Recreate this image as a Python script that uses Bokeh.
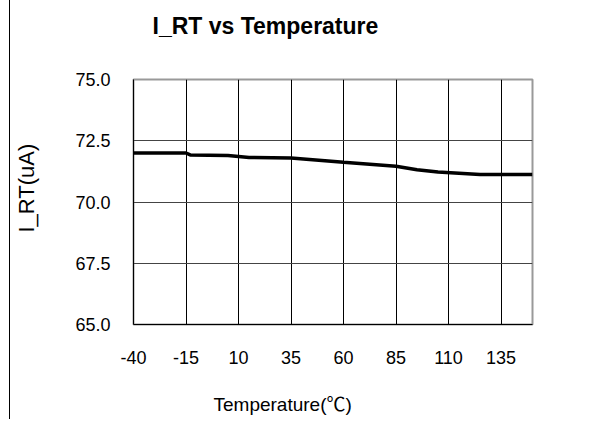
from bokeh.plotting import figure
from bokeh.models import FixedTicker, PrintfTickFormatter, Title
from bokeh.embed import file_html
from bokeh.resources import INLINE

# Data
temperature = [-40, -15, -13, 5, 15, 35, 60, 85, 95, 105, 125, 150]
i_rt = [72.0, 72.0, 71.92, 71.90, 71.82, 71.80, 71.62, 71.46, 71.32, 71.22, 71.12, 71.12]
x_ticks = [-40, -15, 10, 35, 60, 85, 110, 135]
y_ticks = [65.0, 67.5, 70.0, 72.5, 75.0]
title_text = "I_RT vs Temperature"
x_label = "Temperature(℃)"
y_label = "I_RT(uA)"

FONT = "Liberation Sans"

p = figure(width=577, height=419, x_range=(-40, 150), y_range=(65, 75),
           output_backend="svg", toolbar_location=None,
           min_border_left=123, min_border_right=55,
           min_border_top=79, min_border_bottom=95)
try:
    p.title = None
except Exception:
    p.title.text = ""
    p.title.standoff = 0
p.styles = {"border-left": "1px solid black", "margin-left": "9px"}
p.background_fill_color = "white"
p.border_fill_color = "white"
p.outline_line_color = "#999999"
p.outline_line_width = 2

for ax in (p.xaxis[0], p.yaxis[0]):
    ax.axis_line_color = "black"
    ax.axis_line_width = 1
    ax.major_tick_in = 0
    ax.major_tick_out = 0
    ax.minor_tick_line_color = None
    ax.major_label_text_font = FONT
    ax.major_label_text_font_size = "18px"
    ax.major_label_text_color = "black"

p.xaxis.ticker = FixedTicker(ticks=x_ticks)
p.yaxis.ticker = FixedTicker(ticks=y_ticks)
p.xaxis.formatter = PrintfTickFormatter(format="%d")
p.yaxis.formatter = PrintfTickFormatter(format="%.1f")
p.xaxis.major_label_standoff = 26
p.yaxis.major_label_standoff = 23


def spacer(n):
    return Title(text=" ", text_font_size="1px", standoff=n)


# title (above), with a spacer between it and the frame
p.add_layout(spacer(36), "above")
p.add_layout(Title(text=title_text, text_font=FONT, text_font_size="23px",
                   text_font_style="bold", text_color="black",
                   align="left", vertical_align="top", offset=19, standoff=0), "above")

# x axis label (below), left-aligned like the reference
p.add_layout(spacer(24), "below")
p.add_layout(Title(text=x_label, text_font="'Liberation Sans', 'Noto Sans CJK SC'",
                   text_font_size="19px", text_font_style="normal", text_color="black",
                   align="left", vertical_align="top", offset=80, standoff=0), "below")

# y axis label (left)
p.add_layout(spacer(29), "left")
p.add_layout(Title(text=y_label, text_font=FONT,
                   text_font_size="22px", text_font_style="normal", text_color="black",
                   align="left", vertical_align="top", offset=92, standoff=0), "left")

p.xgrid.ticker = FixedTicker(ticks=x_ticks)
p.ygrid.ticker = FixedTicker(ticks=y_ticks)
p.xgrid.grid_line_color = "black"
p.xgrid.grid_line_width = 1
p.ygrid.grid_line_color = "#444444"
p.ygrid.grid_line_width = 1

p.line(temperature, i_rt, line_color="black", line_width=3.5)

open("out.html", "w").write(file_html(p, INLINE))
